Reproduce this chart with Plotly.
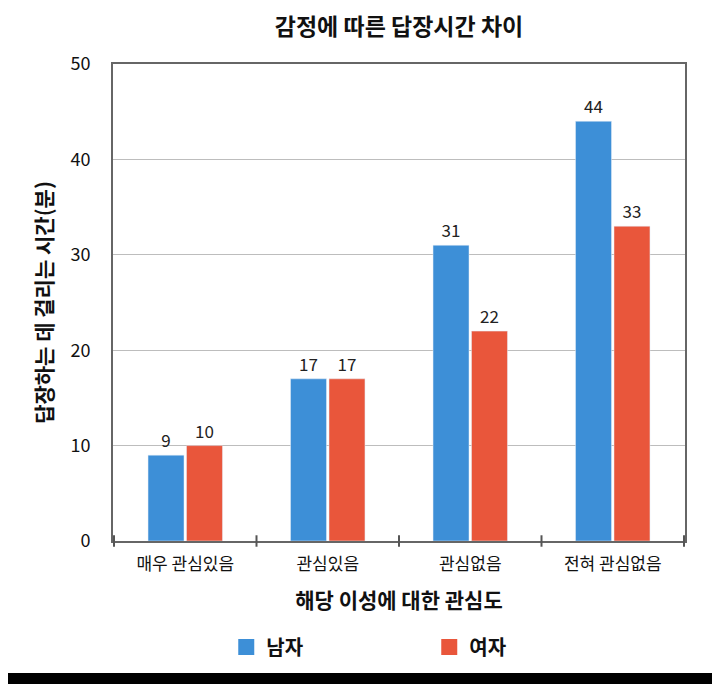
import plotly.graph_objects as go

categories = ["매우 관심있음", "관심있음", "관심없음", "전혀 관심없음"]
male = [9, 17, 31, 44]
female = [10, 17, 22, 33]
series_names = ["남자", "여자"]

FONT = "Noto Sans CJK KR"
BLUE = "#3d8fd7"
RED = "#e9563b"
TXT = "#111"

fig = go.Figure()
for name, vals, col in [(series_names[0], male, BLUE), (series_names[1], female, RED)]:
    fig.add_trace(go.Bar(
        x=categories, y=vals, name=name, marker_color=col, showlegend=False,
        text=[str(v) for v in vals], textposition="outside",
        textfont=dict(size=17, color="#222", family=FONT),
        cliponaxis=False,
    ))
# legend entries with larger square swatches
for name, col in [(series_names[0], BLUE), (series_names[1], RED)]:
    fig.add_trace(go.Scatter(x=[None], y=[None], mode="markers", name="<b>" + name + "</b>",
                             marker=dict(symbol="square", size=19, color=col)))

W, H = 712, 676
L, R, T, B = 105, 35, 56, 143
ph = H - T - B

fig.update_layout(
    width=W, height=H,
    margin=dict(l=L, r=R, t=T, b=B),
    paper_bgcolor="white", plot_bgcolor="white",
    font=dict(family=FONT, color=TXT),
    title=dict(text="<b>감정에 따른 답장시간 차이</b>", x=(L + (W - L - R) / 2) / W, xanchor="center",
               y=1 - 19 / H, yanchor="middle", font=dict(size=23, color=TXT)),
    barmode="group", bargap=0.46, bargroupgap=0.065,
    showlegend=True,
    legend=dict(orientation="h", x=0.198, xanchor="left", y=(H - B - 639) / ph, yanchor="middle",
                font=dict(size=20, color=TXT), entrywidth=158, itemsizing="trace"),
    xaxis=dict(showline=True, linecolor="#666", linewidth=2, mirror=True,
               ticks="", tickfont=dict(size=17, color=TXT), ticklabelstandoff=7,
               title=dict(text="<b>해당 이성에 대한 관심도</b>", font=dict(size=21, color=TXT), standoff=19)),
    yaxis=dict(range=[0, 50], dtick=10, showline=True, linecolor="#666", linewidth=2, mirror=True,
               gridcolor="#bdbdbd", gridwidth=1, zeroline=False, ticks="",
               tickfont=dict(size=18, color=TXT), ticklabelstandoff=17,
               title=dict(text="<b>답장하는 데 걸리는 시간(분)</b>", font=dict(size=21, color=TXT), standoff=12)),
    shapes=[dict(type="rect", xref="paper", yref="paper", x0=-0.5, x1=1.5,
                 y0=-(B + 20) / ph, y1=(H - B - 665) / ph, fillcolor="black", line=dict(width=0), layer="above")],
)

# category boundary ticks on the x axis
for i in range(len(categories) + 1):
    fig.add_shape(type="line", xref="x", yref="paper", x0=i - 0.5, x1=i - 0.5,
                  y0=-0.012, y1=0.012, line=dict(color="#555", width=2))

fig.write_html("out.html")
